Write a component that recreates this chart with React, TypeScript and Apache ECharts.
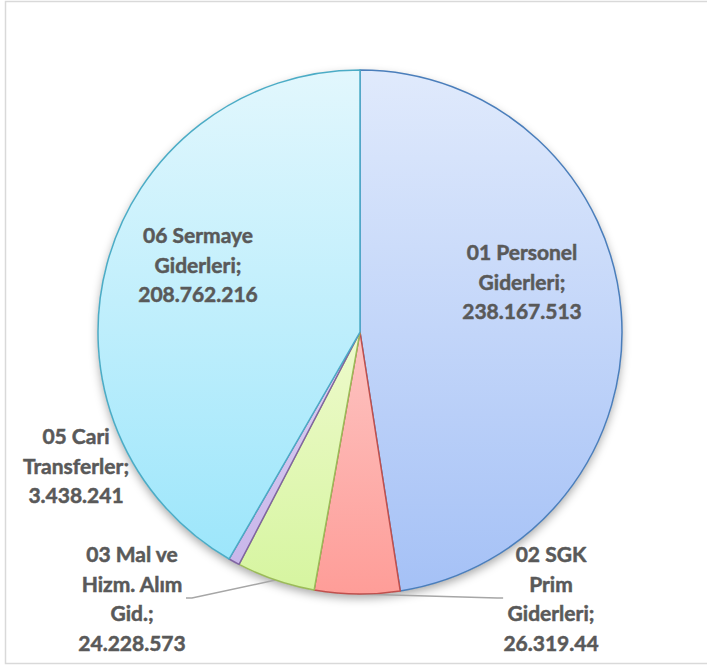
import React, { useEffect, useRef } from "react";
import * as echarts from "echarts";

const categories = [
  "01 Personel Giderleri",
  "02 SGK Prim Giderleri",
  "03 Mal ve Hizm. Alım Gid.",
  "05 Cari Transferler",
  "06 Sermaye Giderleri",
];
const values = [238167513, 26319440, 24228573, 3438241, 208762216];
const valueLabels = ["238.167.513", "26.319.44", "24.228.573", "3.438.241", "208.762.216"];
const wrappedNames = [
  "01 Personel\nGiderleri;",
  "02 SGK\nPrim\nGiderleri;",
  "03 Mal ve\nHizm. Alım\nGid.;",
  "05 Cari\nTransferler;",
  "06 Sermaye\nGiderleri;",
];

const gradients: [string, string][] = [
  ["#e0eafc", "#a5c1f6"],
  ["#fdc4c2", "#fe9d98"],
  ["#eefacc", "#d6f5a0"],
  ["#ded2f2", "#c8b6ea"],
  ["#e2f7fd", "#9de6fb"],
];
const borders = ["#4a7ebb", "#c0504d", "#9bbb59", "#8064a2", "#4bacc6"];
const showLine = [false, true, true, false, false];

// label centres (layout)
const labelPos: [number, number][] = [
  [522, 281],
  [551, 598],
  [132, 598],
  [76, 465],
  [198, 264],
];

export default function App() {
  const ref = useRef<HTMLDivElement>(null);
  useEffect(() => {
    if (!ref.current) return;
    const chart = echarts.init(ref.current, undefined, { renderer: "svg" });
    const total = values.reduce((a, b) => a + b, 0);
    chart.setOption({
      animation: false,
      backgroundColor: "#ffffff",
      graphic: [
        {
          type: "rect",
          shape: { x: 5.5, y: 1.5, width: 760, height: 662 },
          style: { fill: "none", stroke: "#d9d9d9", lineWidth: 1.5 },
          silent: true,
          z: 0,
        },
      ],
      series: [
        {
          type: "pie",
          center: [360, 332],
          radius: 262,
          silent: true,
          z: 1,
          label: { show: false },
          labelLine: { show: false },
          itemStyle: {
            color: "#ffffff",
            shadowBlur: 10,
            shadowOffsetY: 4,
            shadowColor: "rgba(0,0,0,0.35)",
          },
          data: [{ value: total, name: "" }],
        },
        {
          type: "pie",
          center: [360, 332],
          radius: 262,
          startAngle: 90,
          clockwise: true,
          z: 2,
          avoidLabelOverlap: false,
          label: {
            show: true,
            position: "outside",
            fontFamily: "Lato",
            fontWeight: "bold",
            fontSize: 21,
            lineHeight: 29.5,
            color: "#595959",
            textBorderColor: "#595959",
            textBorderWidth: 0.5,
            align: "center",
            formatter: (p: any) => wrappedNames[p.dataIndex] + "\n" + valueLabels[p.dataIndex],
          },
          labelLine: {
            show: true,
            length: 10,
            length2: 6,
            lineStyle: { color: "#a6a6a6", width: 1.5 },
          },
          labelLayout: (p: any) => ({
            x: labelPos[p.dataIndex][0],
            y: labelPos[p.dataIndex][1],
            align: "center",
            verticalAlign: "middle",
          }),
          data: categories.map((name, i) => ({
            name,
            value: values[i],
            labelLine: { show: showLine[i] },
            itemStyle: {
              color: new echarts.graphic.LinearGradient(0, 0, 0, 1, [
                { offset: 0, color: gradients[i][0] },
                { offset: 1, color: gradients[i][1] },
              ]),
              borderColor: borders[i],
              borderWidth: 1.5,
            },
          })),
        },
      ],
    });
    return () => chart.dispose();
  }, []);
  return (
    <div
      ref={ref}
      style={{ position: "absolute", left: 0, top: 0, width: 707, height: 669 }}
    />
  );
}
